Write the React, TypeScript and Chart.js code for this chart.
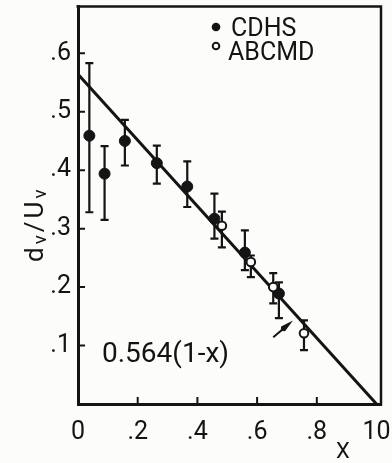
import { useEffect, useRef } from "react";
import { Chart, registerables } from "chart.js";

Chart.register(...registerables);

// CDHS (filled circles)
const cdhsX = [0.038, 0.089, 0.157, 0.264, 0.366, 0.457, 0.559, 0.673];
const cdhsY = [0.459, 0.394, 0.45, 0.412, 0.372, 0.317, 0.259, 0.189];
const cdhsLow = [0.328, 0.315, 0.408, 0.377, 0.337, 0.283, 0.229, 0.147];
const cdhsHigh = [0.583, 0.441, 0.486, 0.442, 0.415, 0.36, 0.297, 0.208];

// ABCMD (open circles)
const abcmdX = [0.482, 0.579, 0.654, 0.757];
const abcmdY = [0.305, 0.243, 0.2, 0.121];
const abcmdLow = [0.268, 0.217, 0.172, 0.092];
const abcmdHigh = [0.329, 0.254, 0.224, 0.143];

// Fit 0.564(1-x)
const fitX = [0, 1];
const fitY = [0.564, 0];

// Axes
const xTicks = [0, 0.2, 0.4, 0.6, 0.8, 1.0];
const xTickLabels = ["0", ".2", ".4", ".6", ".8", "10"];
const yTicks = [0.1, 0.2, 0.3, 0.4, 0.5, 0.6];
const yTickLabels = [".1", ".2", ".3", ".4", ".5", ".6"];

// Arrow annotation (data coordinates: from, to)
const arrowFrom = [0.654, 0.114];
const arrowTo = [0.72, 0.143];

const legendLabels = ["CDHS", "ABCMD"];
const fitLabel = "0.564(1-x)";
const xTitle = "X";

const INK = "#141414";
const FONT = 'Roboto, "DejaVu Sans", sans-serif';

export default function App() {
  const ref = useRef<HTMLCanvasElement | null>(null);

  useEffect(() => {
    document.body.style.margin = "0";
    const canvas = ref.current;
    if (!canvas) return;

    const decor = {
      id: "decor",
      beforeDraw(chart: any) {
        const ctx = chart.ctx;
        ctx.save();
        ctx.fillStyle = "#fcfcfa";
        ctx.fillRect(0, 0, chart.width, chart.height);
        ctx.restore();
      },
      beforeDatasetsDraw(chart: any) {
        const ctx = chart.ctx;
        const xs = chart.scales.x;
        const ys = chart.scales.y;
        ctx.save();
        ctx.strokeStyle = INK;
        ctx.lineWidth = 2.2;
        chart.data.datasets.forEach((ds: any) => {
          if (!ds.errLow) return;
          ds.data.forEach((p: any, i: number) => {
            const px = xs.getPixelForValue(p.x);
            const lo = ys.getPixelForValue(ds.errLow[i]);
            const hi = ys.getPixelForValue(ds.errHigh[i]);
            ctx.beginPath();
            ctx.moveTo(px, lo);
            ctx.lineTo(px, hi);
            ctx.moveTo(px - 4, lo);
            ctx.lineTo(px + 4, lo);
            ctx.moveTo(px - 4, hi);
            ctx.lineTo(px + 4, hi);
            ctx.stroke();
          });
        });
        ctx.restore();
      },
      afterDraw(chart: any) {
        const ctx = chart.ctx;
        const { left, right, top, bottom } = chart.chartArea;
        const xs = chart.scales.x;
        const ys = chart.scales.y;
        ctx.save();
        ctx.strokeStyle = INK;
        ctx.fillStyle = INK;
        // frame top and right
        ctx.lineWidth = 2.5;
        ctx.beginPath();
        ctx.moveTo(left - 1.5, top);
        ctx.lineTo(right, top);
        ctx.lineTo(right, bottom + 1.5);
        ctx.stroke();
        // inward tick marks
        ctx.lineWidth = 2;
        ctx.beginPath();
        xTicks.forEach((v) => {
          if (v === 0 || v === 1) return;
          const px = xs.getPixelForValue(v);
          ctx.moveTo(px, bottom);
          ctx.lineTo(px, bottom - 7);
        });
        yTicks.forEach((v) => {
          const py = ys.getPixelForValue(v);
          ctx.moveTo(left, py);
          ctx.lineTo(left + 7, py);
        });
        ctx.stroke();

        // arrow
        const ax0 = xs.getPixelForValue(arrowFrom[0]);
        const ay0 = ys.getPixelForValue(arrowFrom[1]);
        const ax1 = xs.getPixelForValue(arrowTo[0]);
        const ay1 = ys.getPixelForValue(arrowTo[1]);
        const ang = Math.atan2(ay1 - ay0, ax1 - ax0);
        const headLen = 13;
        const bx = ax1 - headLen * Math.cos(ang);
        const by = ay1 - headLen * Math.sin(ang);
        ctx.lineWidth = 2;
        ctx.beginPath();
        ctx.moveTo(ax0, ay0);
        ctx.lineTo(bx, by);
        ctx.stroke();
        const nx = -Math.sin(ang) * 3;
        const ny = Math.cos(ang) * 3;
        ctx.beginPath();
        ctx.moveTo(ax1, ay1);
        ctx.lineTo(bx + nx, by + ny);
        ctx.lineTo(bx - 3 * Math.cos(ang), by - 3 * Math.sin(ang));
        ctx.lineTo(bx - nx, by - ny);
        ctx.closePath();
        ctx.fill();

        // legend
        const ds0 = chart.data.datasets[0];
        const ds1 = chart.data.datasets[1];
        ctx.font = `25px ${FONT}`;
        ctx.textBaseline = "alphabetic";
        ctx.textAlign = "left";
        ctx.beginPath();
        ctx.arc(216, 27, 4.3, 0, Math.PI * 2);
        ctx.fillStyle = ds0.backgroundColor;
        ctx.fill();
        ctx.fillStyle = INK;
        ctx.fillText(ds0.label, 231, 36);
        ctx.beginPath();
        ctx.arc(216, 46, 3.3, 0, Math.PI * 2);
        ctx.fillStyle = ds1.backgroundColor;
        ctx.fill();
        ctx.lineWidth = 2;
        ctx.strokeStyle = ds1.borderColor;
        ctx.stroke();
        ctx.fillStyle = INK;
        ctx.fillText(ds1.label, 228, 60);

        // fit annotation
        ctx.font = `28px ${FONT}`;
        ctx.fillText(fitLabel, 102, 362);

        // x title
        ctx.font = `22px ${FONT}`;
        ctx.textAlign = "center";
        ctx.fillText(xTitle, 343, 458);

        // y title d_v / U_v (rotated)
        ctx.save();
        ctx.translate(43, 262);
        ctx.rotate(-Math.PI / 2);
        ctx.textAlign = "left";
        const big = `26px ${FONT}`;
        const small = `19px ${FONT}`;
        const parts: [string, string, number][] = [
          ["d", big, 0],
          ["v", small, 3],
          ["/", big, 0],
          ["U", big, 0],
          ["v", small, 3],
        ];
        let cx = 0;
        parts.forEach(([t, f, dy]) => {
          ctx.font = f;
          ctx.fillText(t, cx, dy);
          cx += ctx.measureText(t).width + 3;
        });
        ctx.restore();

        ctx.restore();
      },
    };

    const chart = new Chart(canvas, {
      type: "scatter",
      data: {
        datasets: [
          {
            label: legendLabels[0],
            data: cdhsX.map((x, i) => ({ x, y: cdhsY[i] })),
            errLow: cdhsLow,
            errHigh: cdhsHigh,
            backgroundColor: INK,
            borderColor: INK,
            pointRadius: 5.5,
            pointBorderWidth: 1,
            showLine: false,
            order: 1,
          } as any,
          {
            label: legendLabels[1],
            data: abcmdX.map((x, i) => ({ x, y: abcmdY[i] })),
            errLow: abcmdLow,
            errHigh: abcmdHigh,
            backgroundColor: "#fcfcfa",
            borderColor: INK,
            pointRadius: 4.3,
            pointBorderWidth: 2,
            showLine: false,
            order: 0,
          } as any,
          {
            label: "fit",
            type: "line",
            data: fitX.map((x, i) => ({ x, y: fitY[i] })),
            borderColor: INK,
            borderWidth: 3,
            pointRadius: 0,
            showLine: true,
            fill: false,
            order: 2,
          } as any,
        ],
      },
      options: {
        animation: false,
        responsive: false,
        maintainAspectRatio: false,
        layout: { padding: { top: 4, right: 11, left: 0, bottom: 0 } },
        plugins: { legend: { display: false }, tooltip: { enabled: false } },
        scales: {
          x: {
            type: "linear",
            min: 0,
            max: 1.015,
            grid: { display: false, drawTicks: false },
            border: { display: true, width: 3, color: INK },
            afterBuildTicks: (s: any) => {
              s.ticks = xTicks.map((v) => ({ value: v }));
            },
            afterFit: (s: any) => {
              s.height = 59;
              s.paddingLeft = 0;
              s.paddingRight = 0;
            },
            ticks: {
              autoSkip: false,
              maxRotation: 0,
              padding: 14,
              color: INK,
              font: { family: FONT, size: 25 },
              callback: (_v: any, i: number) => xTickLabels[i],
            },
          },
          y: {
            type: "linear",
            min: 0,
            max: 0.68,
            grid: { display: false, drawTicks: false },
            border: { display: true, width: 3, color: INK },
            afterBuildTicks: (s: any) => {
              s.ticks = yTicks.map((v) => ({ value: v }));
            },
            afterFit: (s: any) => {
              s.width = 78;
              s.paddingTop = 0;
              s.paddingBottom = 0;
            },
            ticks: {
              autoSkip: false,
              padding: 7,
              color: INK,
              font: { family: FONT, size: 25 },
              callback: (_v: any, i: number) => yTickLabels[i],
            },
          },
        },
      },
      plugins: [decor],
    } as any);

    return () => chart.destroy();
  }, []);

  return (
    <canvas
      ref={ref}
      width={392}
      height={463}
      style={{ display: "block", width: 392, height: 463 }}
    />
  );
}
